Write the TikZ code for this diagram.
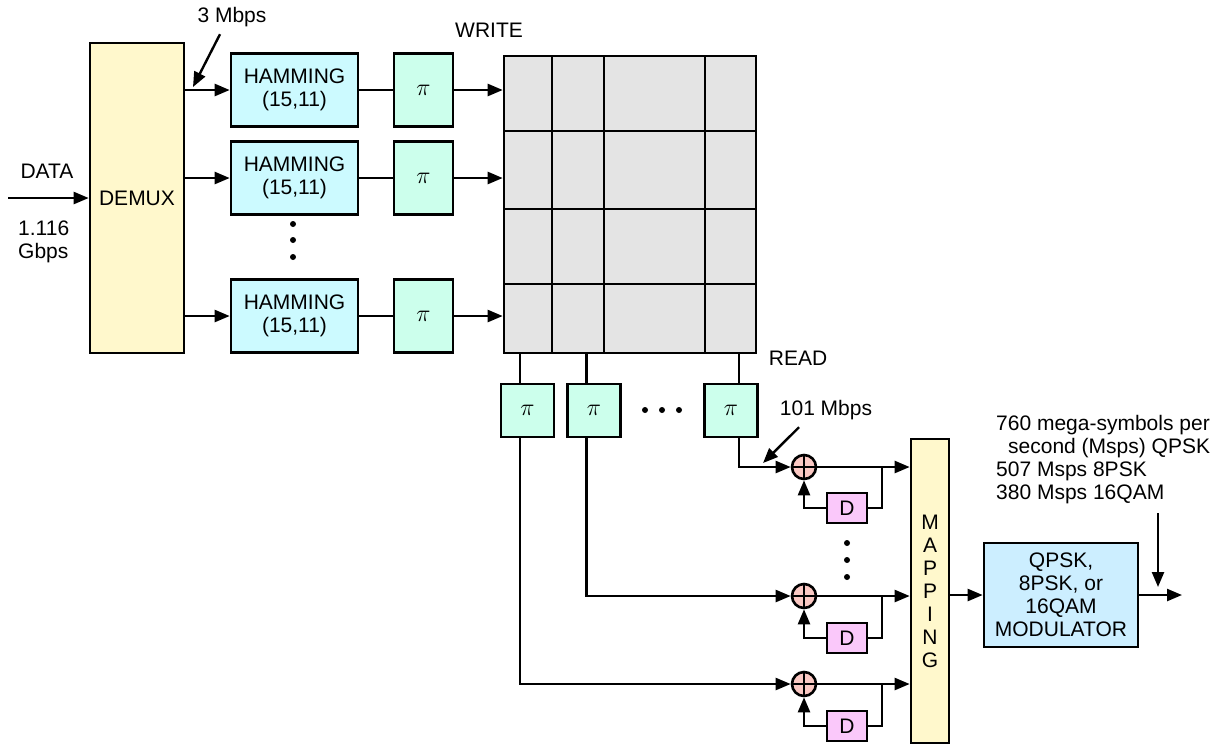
\documentclass[tikz,border=0pt]{standalone}
\usepackage{fontspec}
\setmainfont{Liberation Sans}
\usepackage{xcolor}
\usetikzlibrary{arrows.meta}

\definecolor{demuxyellow}{RGB}{255,248,204}
\definecolor{hamcyan}{RGB}{204,250,255}
\definecolor{piteal}{RGB}{204,255,236}
\definecolor{gridgray}{RGB}{228,228,228}
\definecolor{addpink}{RGB}{250,200,195}
\definecolor{dlypink}{RGB}{250,200,250}
\definecolor{modblue}{RGB}{204,238,255}

\tikzset{
  blk/.style={draw, line width=1.3pt, inner sep=0pt, align=center},
  demuxbox/.style={blk, fill=demuxyellow, minimum width=47pt, minimum height=155pt},
  hambox/.style={blk, fill=hamcyan, minimum width=63.5pt, minimum height=36.5pt},
  pibox/.style={blk, fill=piteal, minimum width=29.5pt, minimum height=36.5pt,
    font=\fontsize{12.5}{13}\selectfont},
  rpibox/.style={blk, fill=piteal, minimum width=26.5pt, minimum height=26.5pt,
    font=\fontsize{12.5}{13}\selectfont},
  gridbox/.style={blk, fill=gridgray, minimum width=126pt, minimum height=148.5pt},
  adder/.style={circle, draw, line width=1.3pt, fill=addpink, minimum size=12pt, inner sep=0pt,
    path picture={\draw[line width=1.2pt] (path picture bounding box.north) -- (path picture bounding box.south)
      (path picture bounding box.west) -- (path picture bounding box.east);}},
  dbox/.style={blk, fill=dlypink, minimum width=20pt, minimum height=15pt},
  mapbox/.style={blk, fill=demuxyellow, minimum width=19pt, minimum height=152pt},
  modbox/.style={blk, fill=modblue, minimum width=77pt, minimum height=52pt},
}

\begin{document}
\begin{tikzpicture}[x=0.5pt, y=-0.5pt, line width=1.2pt,
    >={Triangle[length=7.5pt,width=6pt]},
    every node/.style={font=\fontsize{10.5}{11.5}\selectfont}]
      \useasboundingbox (0,0) rectangle (1225,746);

      % input and demux
      \node (demux) [demuxbox] at (137,198) {DEMUX};
      \coordinate (datain) at (8,198);
      \draw[->] (datain) -- (demux.west);
      \node (datalbl) at (47,171) {DATA};
      \node (ratein) [anchor=north west, align=left, inner sep=0pt] at (17,220) {1.116\\Gbps};
      \node (lorate) [anchor=base] at (232,22) {3 Mbps};
      \coordinate (lotip) at (193,87);
      \draw[->] ([xshift=-6pt]lorate.south) -- (lotip);

      % write side of the block interleaver
      \node (grid) [gridbox] at (630,204.5) {};
      \foreach \x in {552,604,705} \draw[line width=1.3pt] (\x,56) -- (\x,353);
      \foreach \y in {131,209,284} \draw[line width=1.3pt] (504,\y) -- (756,\y);
      \node (wrlbl) [anchor=base] at (489,37) {WRITE};
      \node (rdlbl) [anchor=base] at (798,365) {READ};

      \foreach \y/\i in {90/1,178/2,316/3} {
        \node (ham\i) [hambox] at (294.5,\y) {HAMMING\\(15,11)};
        \node (pi\i) [pibox] at (423.5,\y) {$\pi$};
        \draw[->] (demux.east |- ham\i.west) -- (ham\i.west);
        \draw (ham\i.east) -- (pi\i.west);
        \draw[->] (pi\i.east) -- (grid.west |- pi\i.east);
      }
      \foreach \y in {224,240,257} \fill (293,\y) circle (1.5pt);

      % read side
      \foreach \x/\i/\s in {527.5/1/-3.75pt, 594/2/-3.75pt, 731/3/4pt} {
        \node (rpi\i) [rpibox] at (\x,410.5) {$\pi$};
        \coordinate (rt\i) at ([xshift=\s]rpi\i.north);
        \coordinate (rb\i) at ([xshift=\s]rpi\i.south);
        \draw (rt\i |- grid.south) -- (rt\i);
      }
      \foreach \x in {645,662,679} \fill (\x,410) circle (1.5pt);

      % differential encoders
      \node (mapping) [mapbox] at (930,591) {M\\A\\P\\P\\I\\N\\G};
      \foreach \y/\dy/\i in {467/508/1, 596/638/2, 684/726/3} {
        \node (add\i) [adder] at (804,\y) {};
        \node (dly\i) [dbox] at (847,\dy) {D};
        \coordinate (br\i) at (882,\y);
        \draw[->] (add\i.east) -- (mapping.west |- add\i.east);
        \draw (br\i) |- (dly\i.east);
        \draw[->] (dly\i.west) -| (add\i.south);
      }
      \draw[->] (rb3) |- (add1.west);
      \draw[->] (rb2) |- (add2.west);
      \draw[->] (rb1) |- (add3.west);
      \foreach \y in {543,560,577} \fill (847,\y) circle (1.5pt);
      \node (hirate) [anchor=base] at (826,415) {101 Mbps};
      \coordinate (hitip) at (763,463);
      \draw[->] ([xshift=-13.5pt]hirate.south) -- (hitip);

      % modulator
      \node (mod) [modbox] at (1061,595) {QPSK,\\8PSK, or\\16QAM\\MODULATOR};
      \draw[->] (mapping.east |- mod.west) -- (mod.west);
      \coordinate (out) at (1182,595);
      \draw[->] (mod.east) -- (out);
      \node (symlbl) [anchor=north west, align=left, inner sep=0pt] at (995,414)
        {760 mega-symbols per\\\hspace*{6pt}second (Msps) QPSK\\507 Msps 8PSK\\380 Msps 16QAM};
      \coordinate (symtail) at (1158,513);
      \coordinate (symtip) at (1158,587);
      \draw[->] (symtail) -- (symtip);
    \end{tikzpicture}
\end{document}
